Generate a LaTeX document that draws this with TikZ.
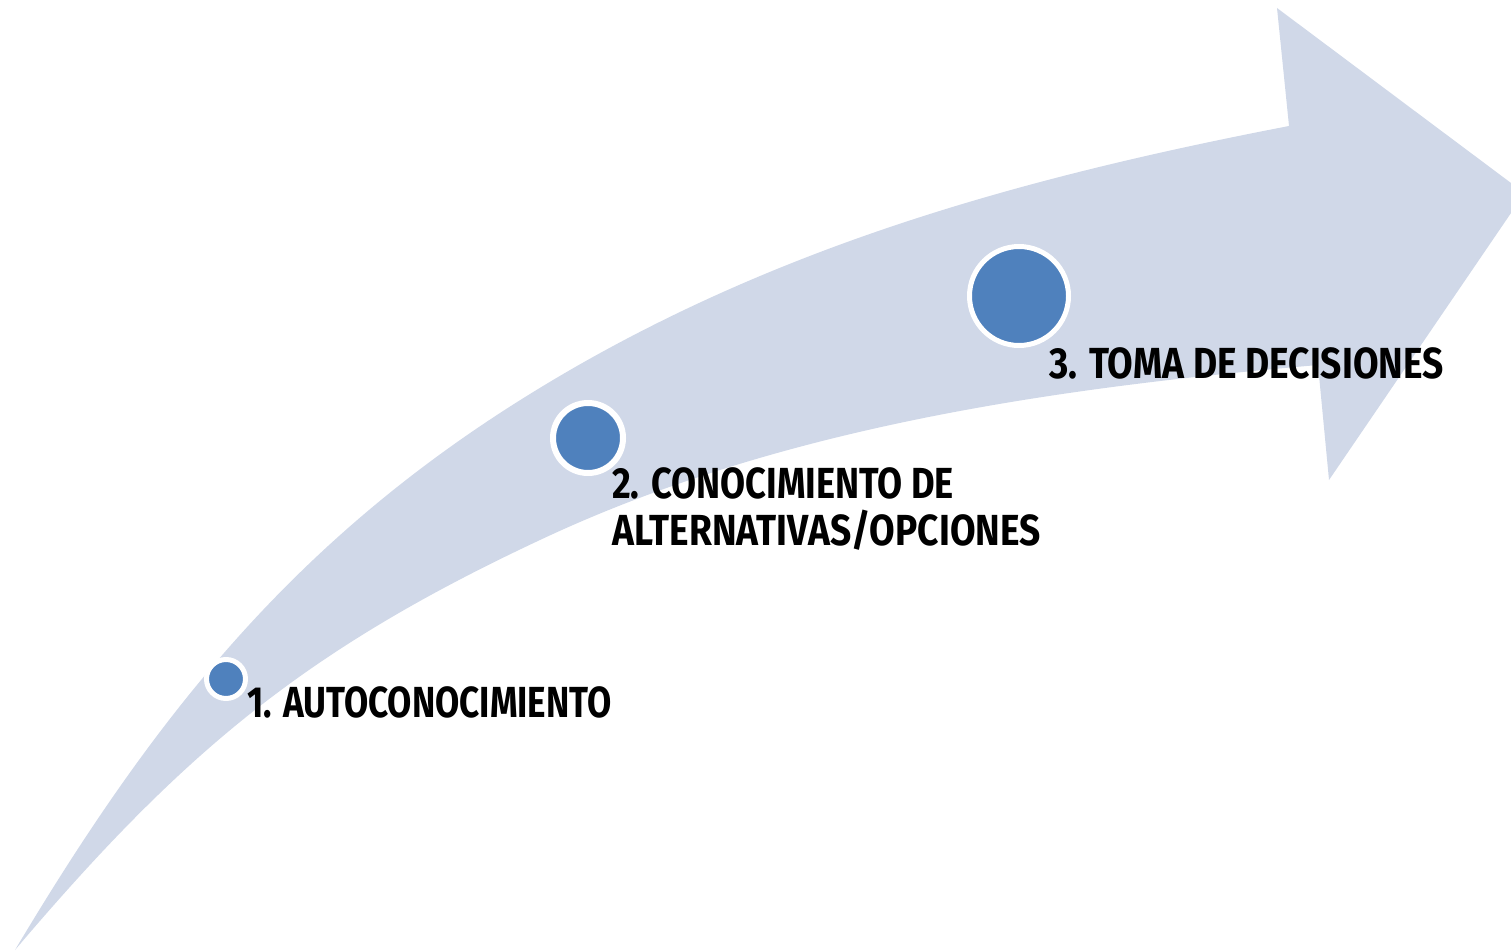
\documentclass[tikz,border=0pt]{standalone}
\usepackage{fontspec}
\usepackage{graphicx}
\newfontfamily\dinfont{Fira Sans}[FakeStretch=0.79]
\definecolor{arrowfill}{HTML}{D0D8E8}
\definecolor{dotfill}{HTML}{4F81BD}
\begin{document}
\begin{tikzpicture}[x=1pt,y=-1pt,
  dot/.style={circle,fill=dotfill,draw=white,line width=5pt,inner sep=0pt},
  lbl/.style={inner sep=0pt,font={\dinfont\bfseries\fontsize{43.5}{47.5}\selectfont},text=black,anchor=base west}]
\useasboundingbox (0,0) rectangle (1511,950);
% curved arrow
\fill[arrowfill]
  (15,950) .. controls (148,727) and (282,555) .. (500,413)
  .. controls (743,255) and (1004,181) .. (1289,126)
  -- (1277,8) -- (1511,183) -- (1511,213) -- (1329,480) -- (1318,365)
  .. controls (1054,388) and (780,427) .. (540,540)
  .. controls (305,650) and (183,752) .. (15,950)
  -- cycle;
% dots
\node[dot,minimum size=39pt] (d1) at (226,679) {};
\node[dot,minimum size=70pt,line width=6pt] (d2) at (588,438) {};
\node[dot,minimum size=99pt] (d3) at (1019,296) {};
% labels
\node[lbl] (t1) at (247,717) {\scalebox{1.022}[1]{1. AUTOCONOCIMIENTO}};
\node[lbl] (t2) at (612,498) {\scalebox{1.056}[1]{2. CONOCIMIENTO DE}};
\node[lbl] (t2b) at (612,545) {\scalebox{1.08}[1]{ALTERNATIVAS/OPCIONES}};
\node[lbl] (t3) at (1049,378) {\scalebox{1.08}[1]{3. TOMA DE DECISIONES}};
\end{tikzpicture}
\end{document}
